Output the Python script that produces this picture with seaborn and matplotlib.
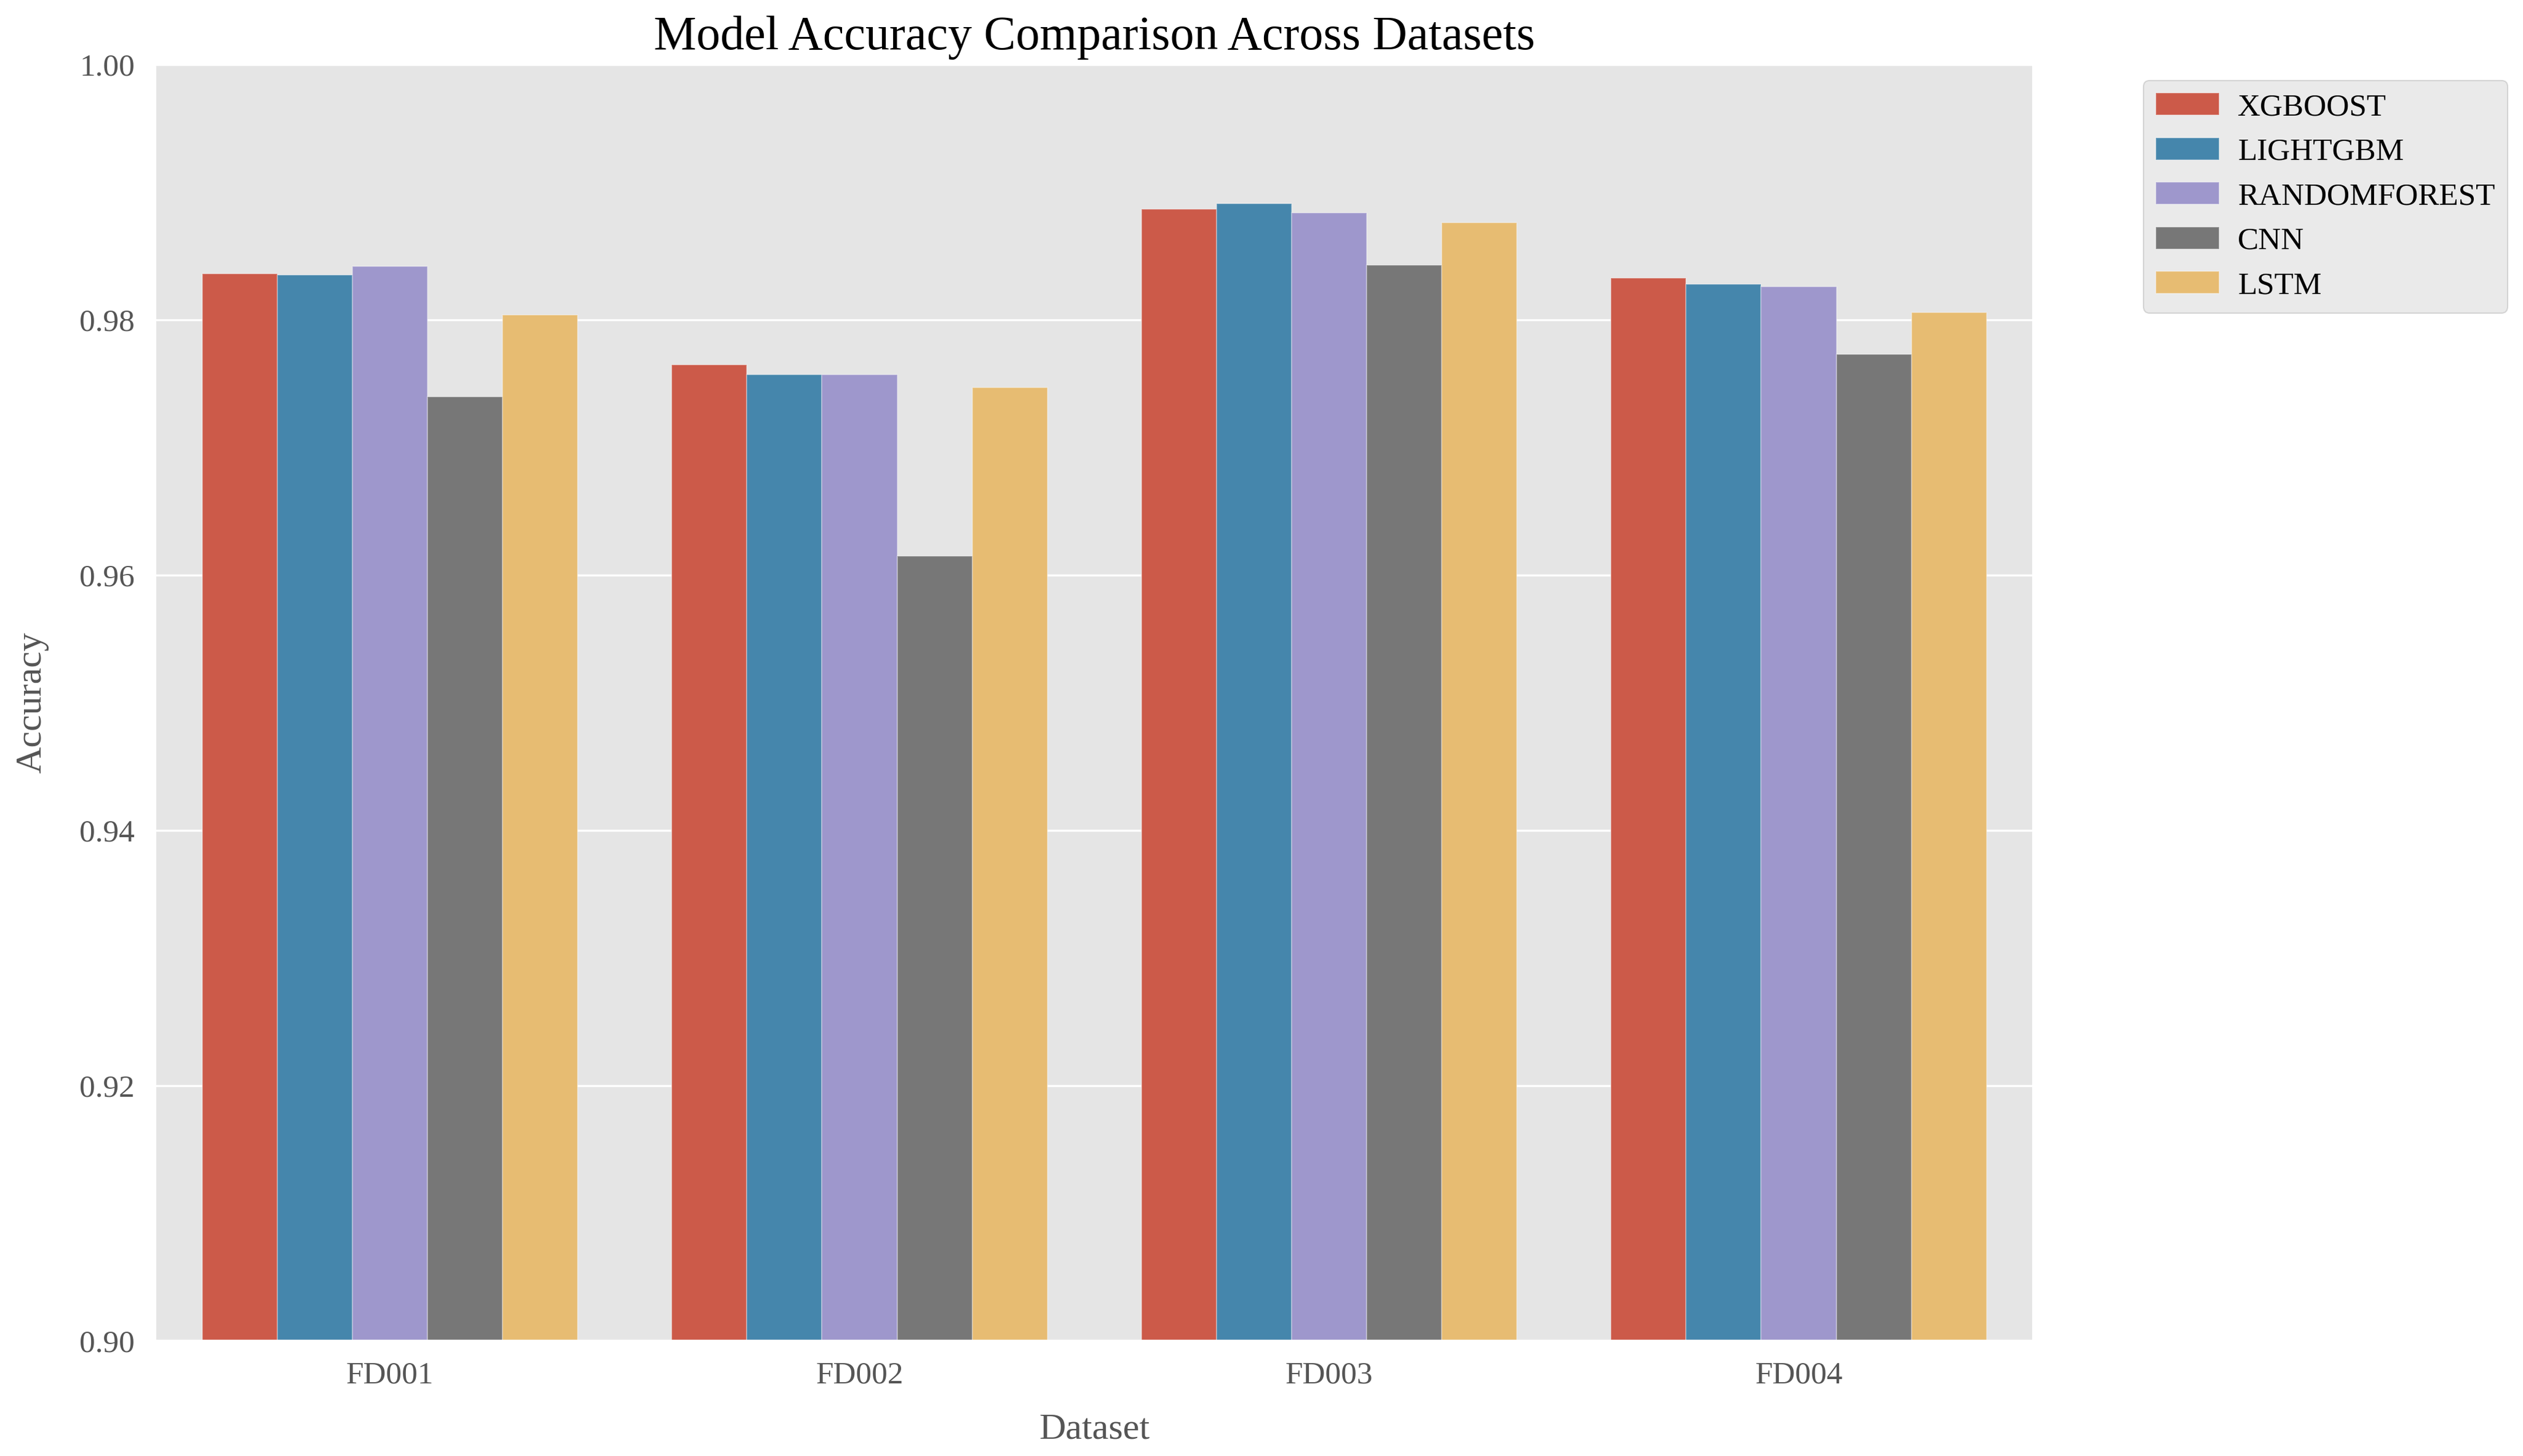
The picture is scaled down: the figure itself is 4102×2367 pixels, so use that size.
import pandas as pd
import seaborn as sns
import matplotlib
matplotlib.use("Agg")
import matplotlib.pyplot as plt

# Dữ liệu
datasets = ["FD001", "FD002", "FD003", "FD004"]
models = ["XGBOOST", "LIGHTGBM", "RANDOMFOREST", "CNN", "LSTM"]
xgboost = [0.9836, 0.9765, 0.9887, 0.9833]
lightgbm = [0.9835, 0.9757, 0.9891, 0.9828]
randomforest = [0.9842, 0.9757, 0.9884, 0.9826]
cnn = [0.9740, 0.9615, 0.9843, 0.9773]
lstm = [0.9804, 0.9747, 0.9876, 0.9806]

rows = []
for model, vals in zip(models, [xgboost, lightgbm, randomforest, cnn, lstm]):
    for ds, v in zip(datasets, vals):
        rows.append({"Dataset": ds, "Model": model, "Accuracy": v})
df = pd.DataFrame(rows)

plt.style.use("ggplot")
plt.rcParams["font.family"] = ["Liberation Serif", "DejaVu Serif"]
plt.rcParams["font.size"] = 12.3

fig = plt.figure(figsize=(4102 / 300, 2367 / 300), dpi=300)
ax = fig.add_axes([0.0615, 0.0790, 0.7445, 0.8766])

palette = ["#E24A33", "#348ABD", "#988ED5", "#777777", "#FBC15E"]
sns.barplot(data=df, x="Dataset", y="Accuracy", hue="Model", order=datasets,
            hue_order=models, palette=palette, ax=ax,
            edgecolor=(1, 1, 1, 0.3), linewidth=0.5)

ax.set_ylim(0.90, 1.00)
ax.set_title("Model Accuracy Comparison Across Datasets", fontsize=18.7)
ax.set_xlabel("Dataset", fontsize=14.4, labelpad=9)
ax.set_ylabel("Accuracy", fontsize=14.4, labelpad=12)
ax.tick_params(length=0, pad=8)
ax.legend(bbox_to_anchor=(1.05, 1), loc="upper left", fontsize=12.3,
          handletextpad=0.6)

fig.savefig("out.png", dpi=300)
